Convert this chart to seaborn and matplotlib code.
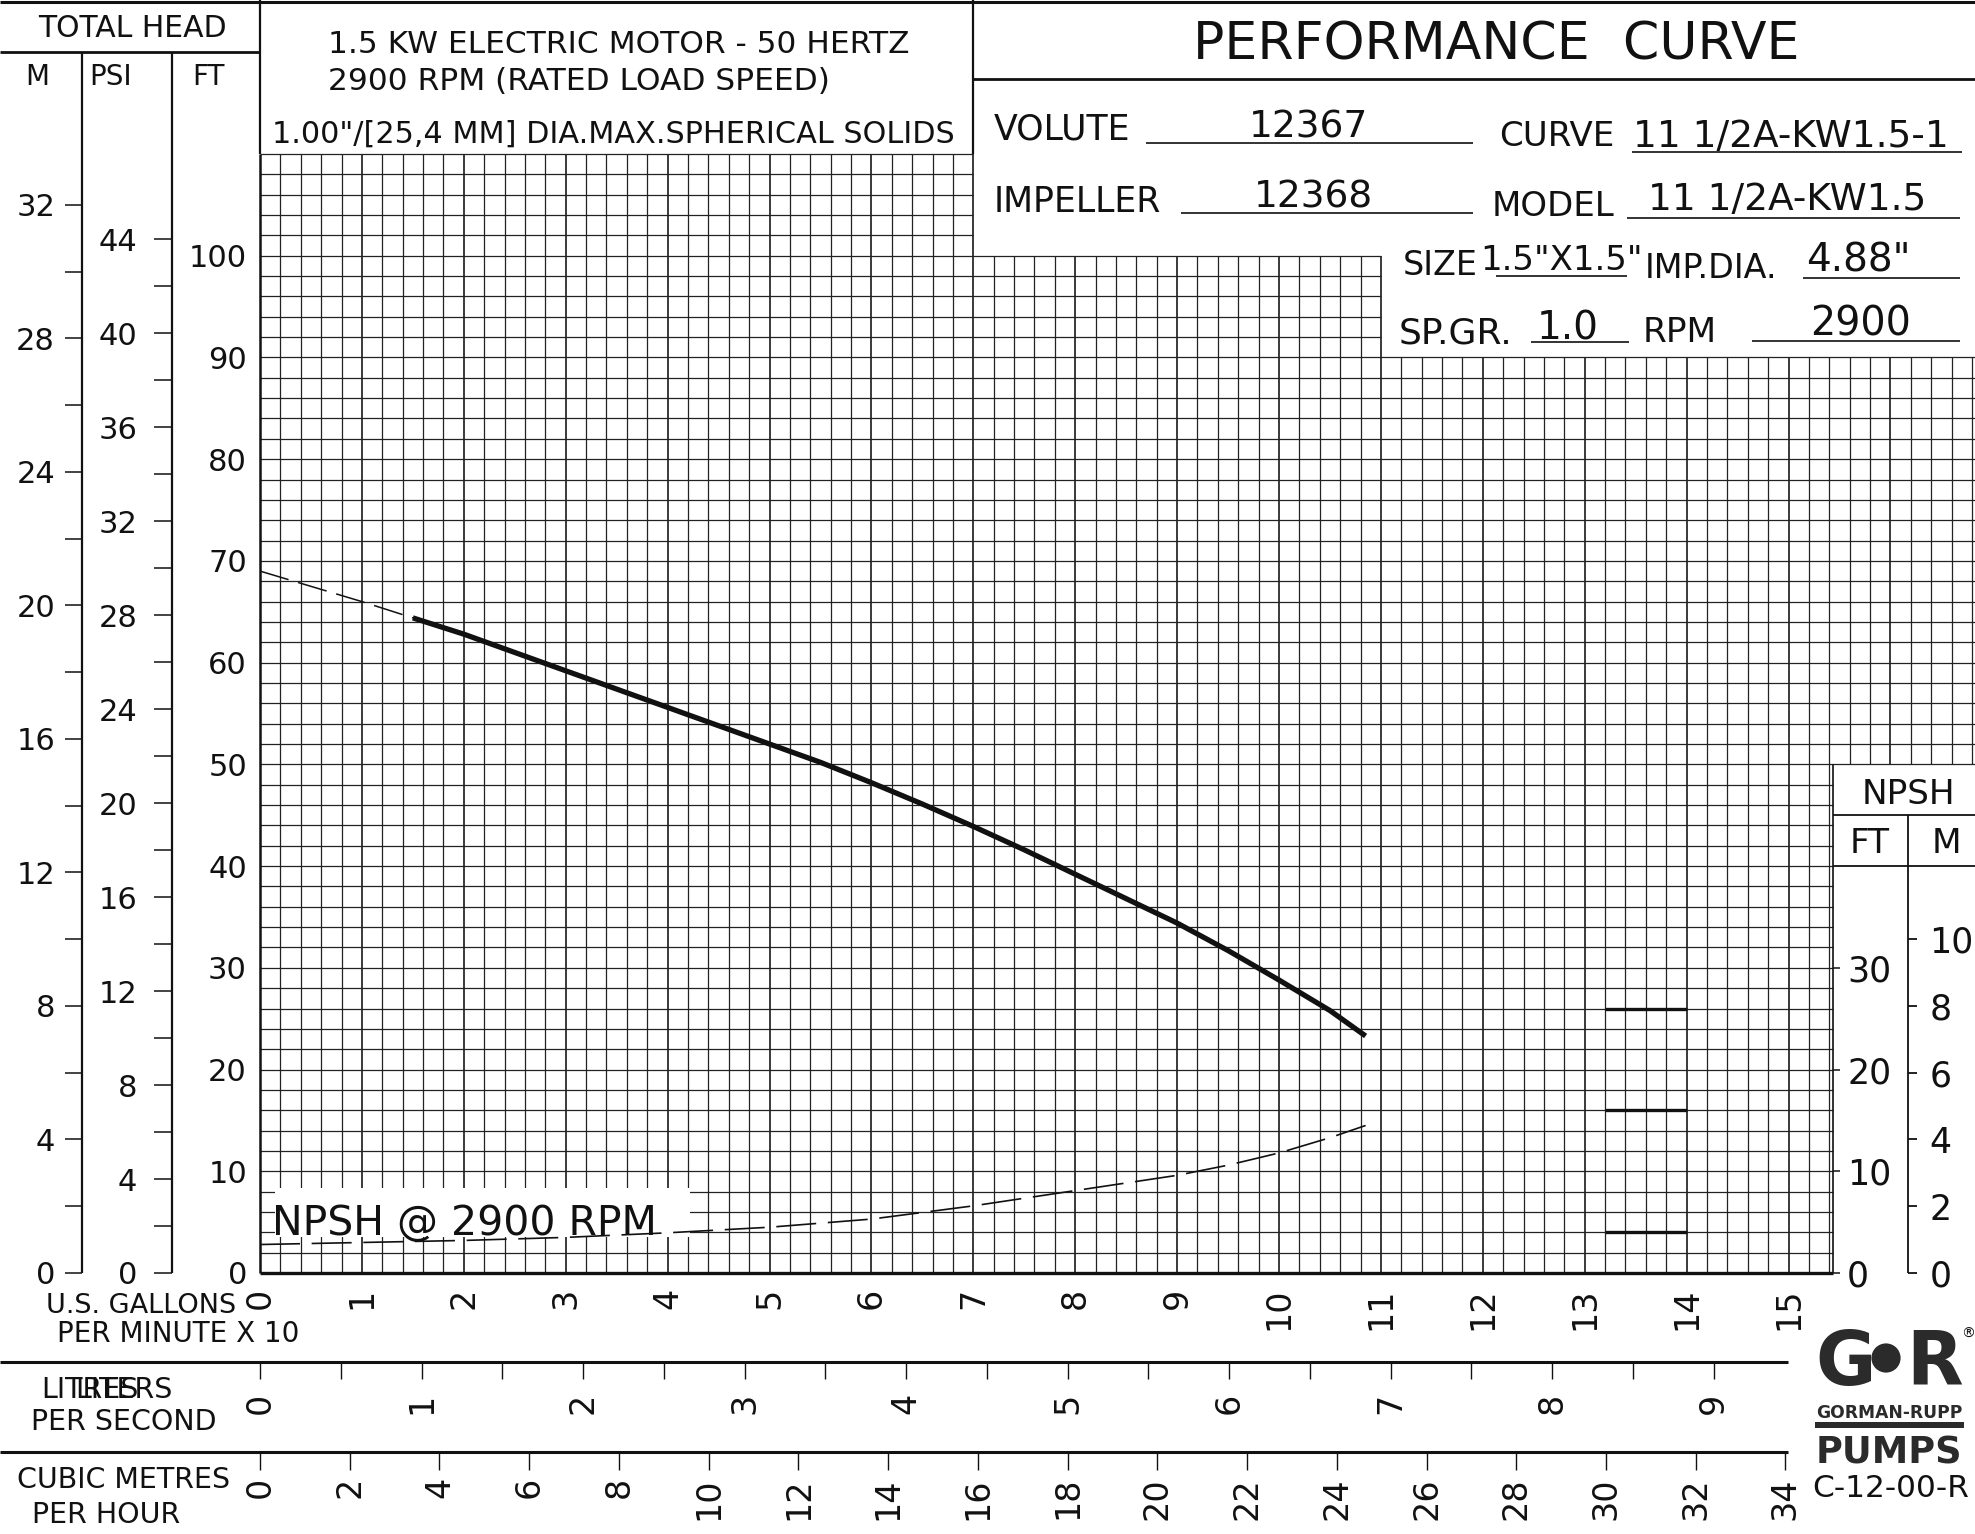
import numpy as np
import pandas as pd
import matplotlib
matplotlib.use("Agg")
import matplotlib.pyplot as plt
from matplotlib.patches import Rectangle, Circle
import seaborn as sns

# ---------------- data ----------------
# flow: U.S. gallons per minute x 10 ; head and NPSH: feet
flow_head_dashed = [0.0, 0.5, 1.0, 1.5]
head_dashed_ft = [69.0, 67.5, 66.0, 64.4]
flow_head = [1.5, 2.0, 2.5, 3.0, 3.5, 4.0, 4.5, 5.0, 5.5, 6.0, 6.5, 7.0,
             7.5, 8.0, 8.5, 9.0, 9.5, 10.0, 10.5, 10.85]
head_ft = [64.4, 62.8, 61.0, 59.2, 57.4, 55.6, 53.8, 52.0, 50.2, 48.2, 46.1, 43.9,
           41.6, 39.2, 36.8, 34.4, 31.7, 28.8, 25.8, 23.3]
flow_npsh = [0, 1, 2, 3, 4, 5, 6, 7, 8, 9, 9.5, 10, 10.5, 10.85]
npsh_ft = [2.8, 3.0, 3.2, 3.5, 3.95, 4.5, 5.3, 6.6, 8.1, 9.6, 10.6, 11.8, 13.3, 14.5]

gpm_ticks = [0, 1, 2, 3, 4, 5, 6, 7, 8, 9, 10, 11, 12, 13, 14, 15]
ft_ticks = [0, 10, 20, 30, 40, 50, 60, 70, 80, 90, 100]
m_ticks = [0, 4, 8, 12, 16, 20, 24, 28, 32]
m_minor = [2, 6, 10, 14, 18, 22, 26, 30]
psi_ticks = [0, 4, 8, 12, 16, 20, 24, 28, 32, 36, 40, 44]
psi_minor = [2, 6, 10, 14, 18, 22, 26, 30, 34, 38, 42]
lps_ticks = [0, 1, 2, 3, 4, 5, 6, 7, 8, 9]
lps_minor = [0.5, 1.5, 2.5, 3.5, 4.5, 5.5, 6.5, 7.5, 8.5]
m3h_ticks = [0, 2, 4, 6, 8, 10, 12, 14, 16, 18, 20, 22, 24, 26, 28, 30, 32, 34]
npsh_ft_ticks = [0, 10, 20, 30]
npsh_m_ticks = [0, 2, 4, 6, 8, 10]

FT_PER_M = 3.28084
FT_PER_PSI = 2.31
GPM_PER_LPS = 15.850
GPM_PER_M3H = 4.4029

# ---------------- layout (pixels) ----------------
W, H = 1975, 1534
X0, Y0, YT = 260.0, 1273.0, 154.0
UX = 101.9
XR = (W - X0) / UX
YR = 110.0
INK = "#111111"

sns.set_style("white")
plt.rcParams["font.family"] = ["DejaVu Sans"]
plt.rcParams["axes.unicode_minus"] = False

fig = plt.figure(figsize=(W / 100, H / 100), dpi=100)
fig.patch.set_facecolor("white")

ax0 = fig.add_axes([0, 0, 1, 1])
ax0.set_xlim(0, W)
ax0.set_ylim(H, 0)
ax0.axis("off")

ax = fig.add_axes([X0 / W, 1 - Y0 / H, (W - X0) / W, (Y0 - YT) / H])
ax.set_xlim(0, XR)
ax.set_ylim(0, YR)
ax.patch.set_visible(False)
for s in ax.spines.values():
    s.set_visible(False)


def seg(x1, y1, x2, y2, lw=1.5):
    ax0.plot([x1, x2], [y1, y2], color=INK, lw=lw, solid_capstyle="butt")


def txt(x, y, s, size, ha="left", va="baseline", **kw):
    ax0.text(x, y, s, fontsize=size, ha=ha, va=va, color=INK, **kw)


# ---------------- grid ----------------
vx = np.round(np.arange(0.2, XR, 0.2), 2)
lo, hi, lw_v = [], [], []
for x in vx:
    if x <= 7.001:
        a, b = 0, 110
    elif x <= 11.001:
        a, b = 0, 100
    elif x <= 15.401:
        a, b = 0, 90
    else:
        a, b = 50, 90
    lo.append(a)
    hi.append(b)
    lw_v.append(1.25 if abs(x - round(x)) < 1e-6 else 0.9)
ax.vlines(vx, lo, hi, colors="#222222", linewidths=lw_v, clip_on=False, zorder=1)

hy = np.arange(2, 111, 2)
right = []
for y in hy:
    if y < 50:
        r = 15.44
    elif y <= 90:
        r = XR
    elif y <= 100:
        r = 11
    else:
        r = 7
    right.append(r)
ax.hlines(hy, 0, right, colors="#222222", linewidths=0.9, clip_on=False, zorder=1)

ax.vlines(0, 0, 110, colors=INK, linewidths=1.8, clip_on=False, zorder=3)
ax.hlines(0, 0, 15.44, colors=INK, linewidths=2.4, clip_on=False, zorder=3)
ax.vlines(15.44, 0, 50, colors=INK, linewidths=1.2, clip_on=False, zorder=3)
ax.hlines([45, 40], 15.44, XR, colors=INK, linewidths=1.3, clip_on=False, zorder=3)
ax.vlines(16.17, 0, 45, colors=INK, linewidths=1.3, clip_on=False, zorder=3)
ax.hlines([26, 16, 4], 13.2, 14.0, colors=INK, linewidths=2.4, zorder=3)

# ---------------- curves ----------------
df_hd = pd.DataFrame({"flow": flow_head_dashed, "ft": head_dashed_ft})
df_h = pd.DataFrame({"flow": flow_head, "ft": head_ft})
df_n = pd.DataFrame({"flow": flow_npsh, "ft": npsh_ft})
sns.lineplot(data=df_hd, x="flow", y="ft", ax=ax, color=INK, lw=1.1,
             linestyle=(0, (19.5, 6.5)), estimator=None, sort=False, zorder=4)
sns.lineplot(data=df_h, x="flow", y="ft", ax=ax, color=INK, lw=3.8,
             estimator=None, sort=False, zorder=4, solid_capstyle="butt",
             solid_joinstyle="round")
sns.lineplot(data=df_n, x="flow", y="ft", ax=ax, color=INK, lw=1.2,
             linestyle=(0, (24, 7)), estimator=None, sort=False, zorder=4)
ax.set_xlabel("")
ax.set_ylabel("")
ax.set_xlim(0, XR)
ax.set_ylim(0, YR)

ax.add_patch(Rectangle((0.15, 3.55), 4.07, 4.8, facecolor="white",
                       edgecolor="none", zorder=2.5))
ax.text(0.12, 3.75, "NPSH @ 2900 RPM", fontsize=29.5, ha="left",
        va="baseline", color=INK, zorder=3.5)

# ---------------- main axis ticks ----------------
ax.set_xticks(gpm_ticks)
ax.set_xticklabels([str(v) for v in gpm_ticks])
ax.tick_params(axis="x", length=0, pad=10.5, labelsize=24, labelrotation=90,
               colors=INK)
ax.set_yticks(ft_ticks)
ax.set_yticklabels([str(v) for v in ft_ticks])
ax.tick_params(axis="y", length=0, pad=9.4, labelsize=22, colors=INK)


def hide_spines(a):
    for s in a.spines.values():
        s.set_visible(False)


# metres of head
ax_m = ax.secondary_yaxis((82 - X0) / (W - X0),
                          functions=(lambda f: f / FT_PER_M, lambda m: m * FT_PER_M))
ax_m.set_alignment("left")
hide_spines(ax_m)
ax_m.set_yticks(m_ticks)
ax_m.set_yticklabels([str(v) for v in m_ticks])
ax_m.set_yticks(m_minor, minor=True)
ax_m.tick_params(axis="y", which="both", direction="out", length=12.2, width=1.1,
                 pad=7.2, labelsize=22, colors=INK)

# psi
ax_p = ax.secondary_yaxis((172 - X0) / (W - X0),
                          functions=(lambda f: f / FT_PER_PSI, lambda p: p * FT_PER_PSI))
ax_p.set_alignment("left")
hide_spines(ax_p)
ax_p.set_yticks(psi_ticks)
ax_p.set_yticklabels([str(v) for v in psi_ticks])
ax_p.set_yticks(psi_minor, minor=True)
ax_p.tick_params(axis="y", which="both", direction="out", length=13, width=1.1,
                 pad=12, labelsize=22, colors=INK)

# litres per second
ax_l = ax.secondary_xaxis((Y0 - 1362) / (Y0 - YT),
                          functions=(lambda u: u * 10 / GPM_PER_LPS,
                                     lambda l: l * GPM_PER_LPS / 10))
ax_l.set_alignment("bottom")
hide_spines(ax_l)
ax_l.set_xticks(lps_ticks)
ax_l.set_xticklabels([str(v) for v in lps_ticks])
ax_l.set_xticks(lps_minor, minor=True)
ax_l.tick_params(axis="x", which="both", direction="out", length=12.5, width=1.0,
                 pad=9.4, labelsize=24, labelrotation=90, colors=INK)

# cubic metres per hour
ax_c = ax.secondary_xaxis((Y0 - 1452) / (Y0 - YT),
                          functions=(lambda u: u * 10 / GPM_PER_M3H,
                                     lambda c: c * GPM_PER_M3H / 10))
ax_c.set_alignment("bottom")
hide_spines(ax_c)
ax_c.set_xticks(m3h_ticks)
ax_c.set_xticklabels([str(v) for v in m3h_ticks])
ax_c.tick_params(axis="x", direction="out", length=13, width=1.0,
                 pad=5, labelsize=24, labelrotation=90, colors=INK)

# NPSH ft / m
ax_nf = ax.secondary_yaxis(15.44 / XR)
hide_spines(ax_nf)
ax_nf.set_yticks(npsh_ft_ticks)
ax_nf.set_yticklabels([str(v) for v in npsh_ft_ticks])
ax_nf.tick_params(axis="y", direction="out", length=5, width=1.1, pad=5,
                  labelsize=25, colors=INK)

ax_nm = ax.secondary_yaxis(16.17 / XR,
                           functions=(lambda f: f / FT_PER_M, lambda m: m * FT_PER_M))
hide_spines(ax_nm)
ax_nm.set_yticks(npsh_m_ticks)
ax_nm.set_yticklabels([str(v) for v in npsh_m_ticks])
ax_nm.tick_params(axis="y", direction="out", length=6.5, width=1.3, pad=9,
                  labelsize=25, colors=INK)

# ---------------- frame lines ----------------
seg(0, 1.5, W, 1.5, 2.2)
seg(0, 52, X0, 52, 2.0)
seg(X0, 0, X0, YT, 1.6)
seg(82, 52, 82, Y0, 1.6)
seg(172, 52, 172, Y0, 1.6)
seg(973, 0, 973, YT, 1.6)
seg(973, 79, W, 79, 2.0)
seg(0, 1362, 1788, 1362, 2.2)
seg(0, 1452, 1788, 1452, 2.2)

# underlines of the data block
for (x1, x2, y) in [(1146, 1473, 143), (1632, 1962, 152), (1181, 1473, 213),
                    (1627, 1960, 218), (1496, 1627, 276), (1803, 1960, 278),
                    (1531, 1629, 342), (1752, 1960, 341)]:
    seg(x1, y, x2, y, 1.2)

# ---------------- texts ----------------
txt(132, 37, "TOTAL HEAD", 21.5, ha="center")
txt(37, 85, "M", 20, ha="center")
txt(111, 85, "PSI", 20, ha="center")
txt(208, 85, "FT", 20, ha="center")

txt(328, 53, "1.5 KW ELECTRIC MOTOR - 50 HERTZ", 22.5)
txt(328, 90, "2900 RPM (RATED LOAD SPEED)", 22.5)
txt(272, 143, "1.00\"/[25,4 MM] DIA.MAX.SPHERICAL SOLIDS", 21.8)

txt(1496, 59, "PERFORMANCE  CURVE", 37.5, ha="center")
txt(994, 139, "VOLUTE", 25)
txt(1309, 137, "12367", 27, ha="center")
txt(1499, 146, "CURVE", 24.5)
txt(1633, 147, "11 1/2A-KW1.5-1", 27)
txt(994, 212, "IMPELLER", 25)
txt(1314, 208, "12368", 27, ha="center")
txt(1492, 216, "MODEL", 24.5)
txt(1648, 210, "11 1/2A-KW1.5", 27)
txt(1403, 275, "SIZE", 24)
txt(1480, 270, "1.5\"X1.5\"", 24.5)
txt(1645, 278, "IMP.DIA.", 24)
txt(1806, 272, "4.88\"", 28)
txt(1399, 343, "SP.GR.", 26)
txt(1537, 340, "1.0", 28)
txt(1643, 342, "RPM", 24.7)
txt(1810, 335, "2900", 28.5)

txt(1908, 804, "NPSH", 24.7, ha="center")
txt(1870, 853, "FT", 24.7, ha="center")
txt(1946, 853, "M", 24.7, ha="center")

txt(236, 1313, "U.S. GALLONS", 19.5, ha="right")
txt(57, 1342, "PER MINUTE X 10", 20)
txt(41, 1398, "LITRES", 20.5)
txt(75, 1398, "LITERS", 20.5)
txt(31, 1430, "PER SECOND", 20.5)
txt(17, 1488, "CUBIC METRES", 20.5)
txt(32, 1523, "PER HOUR", 20.5)

# ---------------- logo ----------------
LOGO = "#2b2b2b"
ax0.text(1815, 1401, "G", fontsize=53, fontweight="bold", color=LOGO,
         ha="left", va="bottom")
ax0.text(1963, 1401, "R", fontsize=53, fontweight="bold", color=LOGO,
         ha="right", va="bottom")
ax0.add_patch(Circle((1886, 1358), 16, facecolor=LOGO, edgecolor="white", lw=2))
ax0.text(1968, 1334, "®", fontsize=10, color=INK, ha="center", va="center")
ax0.text(1889, 1418, "GORMAN-RUPP", fontsize=12.3, fontweight="bold",
         color=LOGO, ha="center", va="baseline")
ax0.add_patch(Rectangle((1815, 1422), 149, 6, facecolor=LOGO, edgecolor="none"))
ax0.text(1889, 1463, "PUMPS", fontsize=26.5, fontweight="bold", color=LOGO,
         ha="center", va="baseline")
txt(1812, 1497, "C-12-00-R", 22.5)

fig.savefig("out.png", dpi=100, facecolor="white")
